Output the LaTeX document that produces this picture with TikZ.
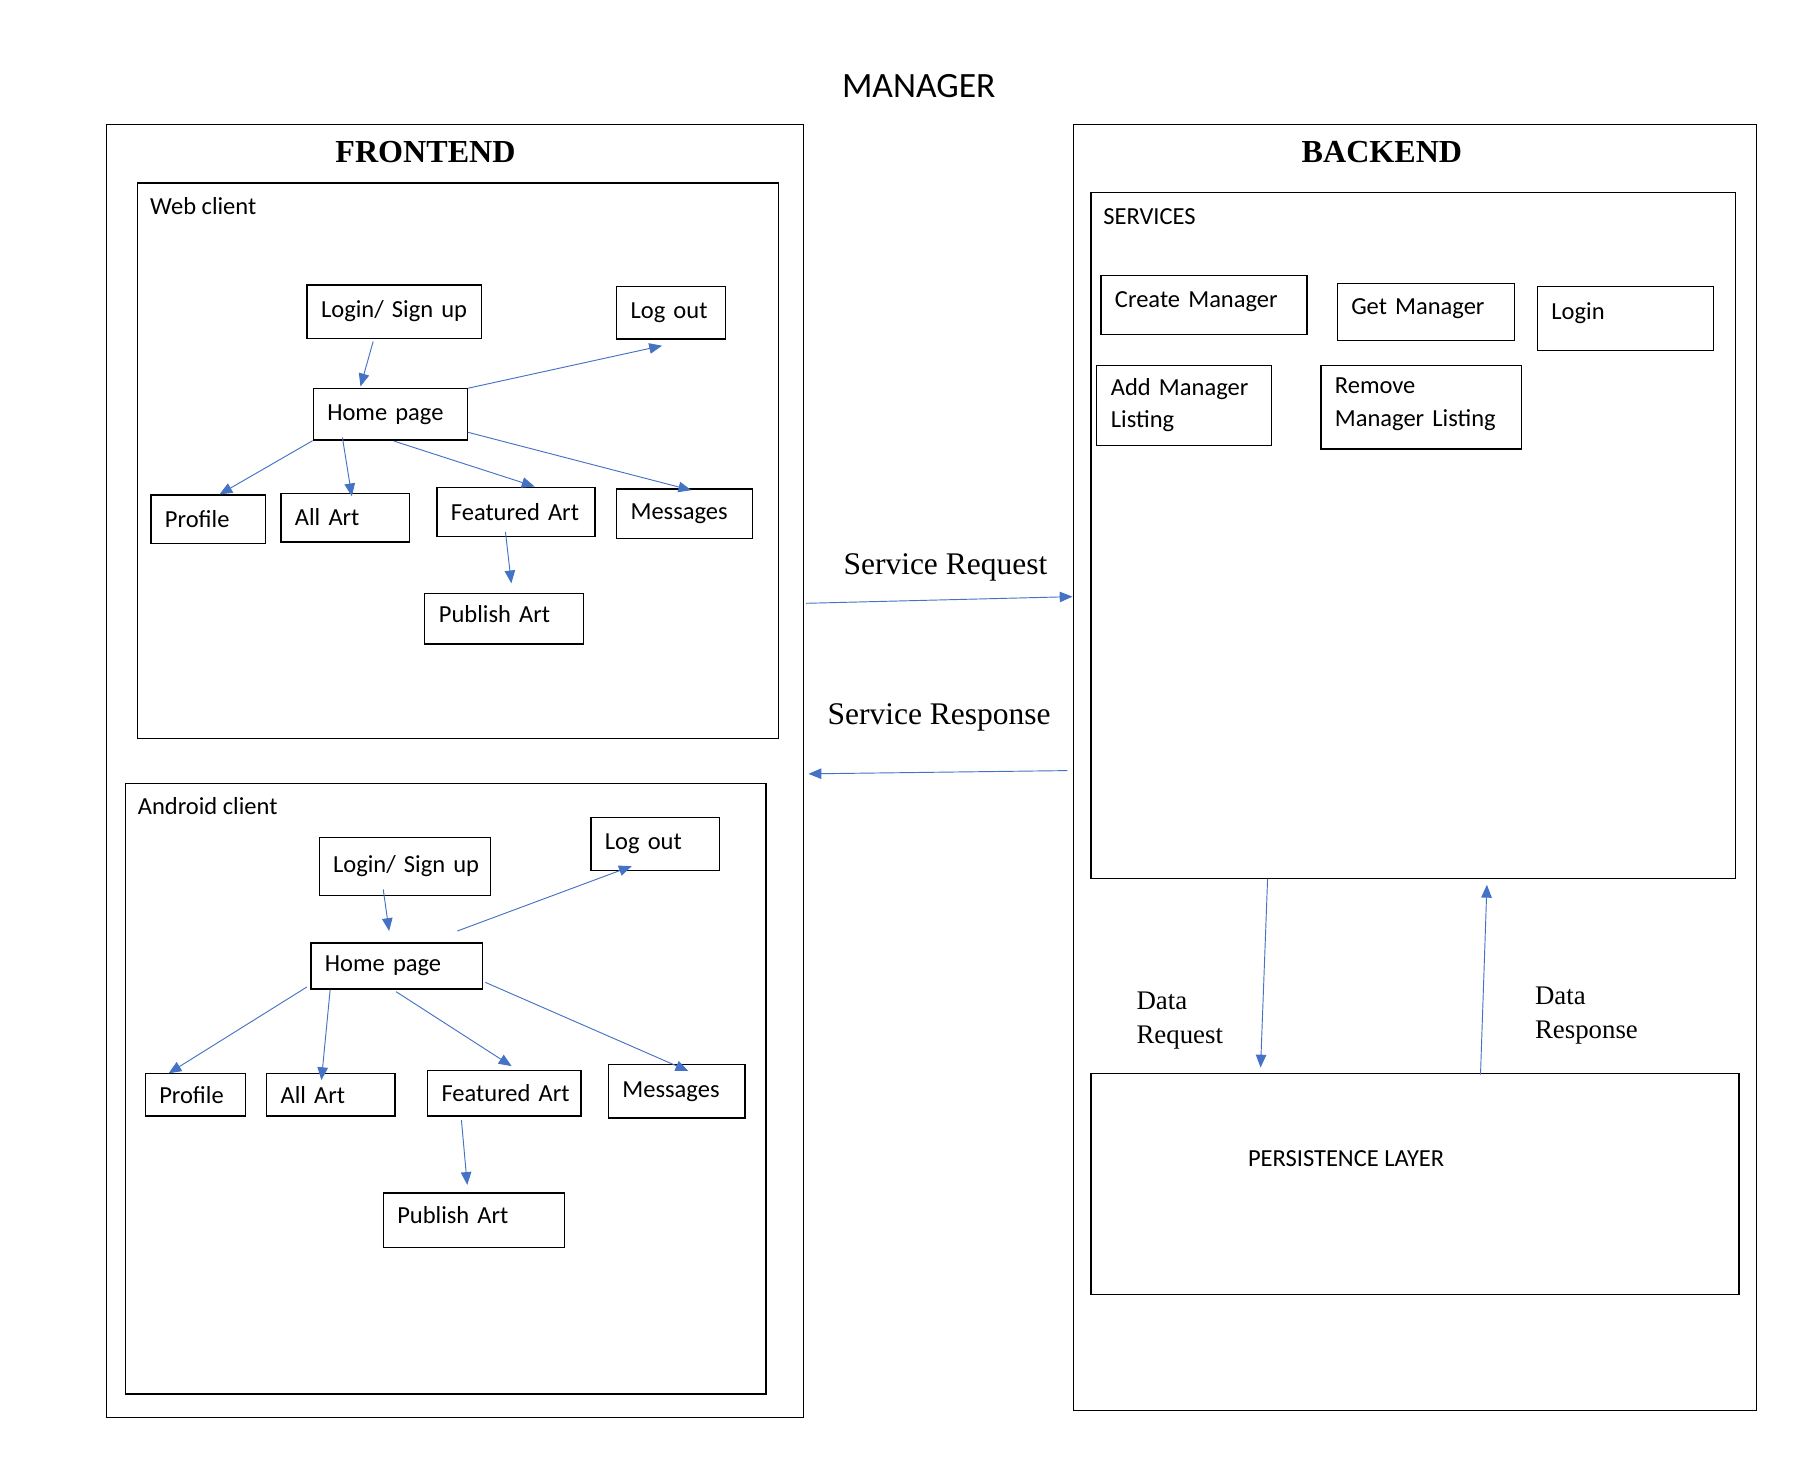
\documentclass[tikz,border=0pt]{standalone}
\usepackage{fontspec}
\setmainfont{Carlito}
\newfontfamily\tnr{Liberation Serif}
\usetikzlibrary{arrows.meta}
\definecolor{arrowblue}{HTML}{4472C4}
\tikzset{
  box/.style={draw, line width=1pt, anchor=north west, inner xsep=12pt, inner ysep=0pt,
    align=left, font=\fontsize{21}{28}\selectfont},
  svcbox/.style={box, text height=14pt, text depth=9pt},
  frame/.style={draw, line width=1pt, anchor=north west, inner sep=0pt},
  plain/.style={inner sep=0pt, font=\fontsize{21}{28}\selectfont},
  title/.style={inner sep=0pt, anchor=base, font=\tnr\bfseries\fontsize{27.5}{33}\selectfont},
  serif/.style={inner sep=0pt, anchor=base west, font=\tnr\fontsize{27}{32}\selectfont},
  serifsm/.style={inner sep=0pt, anchor=base west, align=left, font=\tnr\fontsize{23}{29}\selectfont},
  conn/.style={draw=arrowblue, line width=0.8pt, -{Triangle[length=11pt,width=9pt]}}
}
\begin{document}
\begin{tikzpicture}[x=1pt,y=-1pt]
\useasboundingbox[fill=white] (0,0) rectangle (1560,1251);

% title
\node[inner sep=0pt, anchor=base, font=\fontsize{30.5}{36}\selectfont] (manager) at (787.5,83.8) {MANAGER};

% containers
\node[frame, minimum width=597pt, minimum height=1108.2pt] (frontend) at (91,106.5) {};
\node[frame, minimum width=549.7pt, minimum height=476.1pt] (web) at (117,156.4) {};
\node[frame, minimum width=549pt, minimum height=523.5pt] (android) at (107,670.8) {};
\node[frame, minimum width=585.6pt, minimum height=1102.2pt] (backend) at (919.3,106.5) {};
\node[frame, minimum width=552.3pt, minimum height=587.4pt] (services) at (934.7,164.8) {};
\node[frame, minimum width=555.3pt, minimum height=189.9pt] (persist) at (934.7,919.4) {};

\node[title] (fronttitle) at (364.7,139.7) {FRONTEND};
\node[title] (backtitle) at (1184.5,139.7) {BACKEND};
\node[plain, anchor=base west] (weblbl) at (128.5,183.6) {Web client};
\node[plain, anchor=base west] (andlbl) at (118,698.3) {Android client};
\node[plain, anchor=base west] (servlbl) at (945.5,192.3) {SERVICES};
\node[plain, anchor=base west] (perslbl) at (1069.5,1000) {PERSISTENCE LAYER};

% web client boxes
\node[box, text width=125.3pt, minimum height=45.5pt] (wlogin) at (262.7,243.8) {\mbox{Login/ Sign up}};
\node[box, text width=69pt, minimum height=44.6pt] (wlogout) at (528,245.4) {\mbox{Log out}};
\node[box, text width=108pt, minimum height=43.9pt] (whome) at (268,332.8) {\mbox{Home page}};
\node[box, text width=74pt, minimum height=41.9pt] (wprofile) at (128.9,423.8) {\mbox{Profile}};
\node[box, text width=86pt, minimum height=41.8pt] (wallart) at (240.3,422.2) {\mbox{All Art}};
\node[box, text width=111.5pt, minimum height=42pt] (wfeat) at (374,417) {\mbox{Featured Art}};
\node[box, text width=92.8pt, minimum height=42.4pt] (wmsg) at (528,418.6) {\mbox{Messages}};
\node[box, text width=111.8pt, minimum height=43.5pt, text height=14pt, text depth=8pt] (wpub) at (363.7,508) {\mbox{Publish Art}};

\draw[conn] ([shift={(-18,2.4)}]wlogin.south) -- ([shift={(-25.5,-1.6)}]whome.north);
\draw[conn] (whome.north east) -- ([shift={(-7.5,5.3)}]wlogout.south);
\draw[conn] (whome.south west) -- ([shift={(9.7,0)}]wprofile.north);
\draw[conn] ([shift={(25.5,-2.7)}]whome.south west) -- ([shift={(5.75,3.2)}]wallart.north);
\draw[conn] ([shift={(3,0.3)}]whome.south) -- ([shift={(16,0)}]wfeat.north);
\draw[conn] ([shift={(0,-7.2)}]whome.south east) -- ([shift={(5.6,1.6)}]wmsg.north);
\draw[conn] ([shift={(-9,-4)}]wfeat.south) -- ([shift={(6.2,-8)}]wpub.north);

% android client boxes
\node[box, text width=123pt, minimum height=50.4pt] (alogin) at (273,717) {\mbox{Login/ Sign up}};
\node[box, text width=86pt, minimum height=45.8pt] (alogout) at (506,700) {\mbox{Log out}};
\node[box, text width=123pt, minimum height=39.5pt] (ahome) at (266,807.7) {\mbox{Home page}};
\node[box, text width=62pt, minimum height=36.6pt] (aprofile) at (124,919.4) {\mbox{Profile}};
\node[box, text width=86pt, minimum height=36.6pt] (aallart) at (228,919.4) {\mbox{All Art}};
\node[box, text width=107.5pt, minimum height=38.6pt] (afeat) at (366,917.4) {\mbox{Featured Art}};
\node[box, text width=93pt, minimum height=45.7pt] (amsg) at (521,912) {\mbox{Messages}};
\node[box, text width=131pt, minimum height=47pt, text height=14pt, text depth=8pt] (apub) at (328,1022) {\mbox{Publish Art}};

\draw[conn] ([shift={(-18.5,-6)}]alogin.south) -- ([shift={(-6.5,-9.7)}]ahome.north);
\draw[conn] ([shift={(52,-9.7)}]ahome.north) -- ([shift={(-20,-4.4)}]alogout.south);
\draw[conn] ([shift={(-3,-2.2)}]ahome.south west) -- ([shift={(-23,0.6)}]aprofile.north);
\draw[conn] ([shift={(17,0)}]ahome.south west) -- ([shift={(-8,6.4)}]aallart.north);
\draw[conn] ([shift={(-0.5,1.8)}]ahome.south) -- ([shift={(6.25,-3.6)}]afeat.north);
\draw[conn] ([shift={(2,-6.2)}]ahome.south east) -- ([shift={(10,6)}]amsg.north);
\draw[conn] ([shift={(-36.75,3)}]afeat.south) -- ([shift={(-5.5,-6.4)}]apub.north);

% services boxes
\node[svcbox, text width=152.6pt, minimum height=51.1pt] (create) at (943.2,235.4) {\mbox{Create Manager}};
\node[svcbox, text width=128.2pt, minimum height=49.5pt] (getm) at (1145.7,242.2) {\mbox{Get Manager}};
\node[svcbox, text width=126.7pt, minimum height=54.6pt, text depth=12pt] (loginsvc) at (1317.3,245.4) {\mbox{Login}};
\node[box, text width=125.3pt, minimum height=68.5pt] (addlist) at (939.7,312.5) {Add Manager\\Listing};
\node[box, text width=147.7pt, minimum height=71.8pt] (remlist) at (1131.7,312.5) {Remove\\Manager Listing\rule[-9pt]{0pt}{1pt}};

% middle labels and arrows
\node[serif] (sreqlbl) at (722.8,492) {Service Request};
\node[serif] (sreslbl) at (709.1,620.6) {Service Response};
\draw[conn] ([shift={(2,410.6)}]frontend.north east) -- ([shift={(0,404.9)}]backend.north west);
\draw[conn] ([shift={(-4.5,2.4)}]backend.west) -- ([shift={(4,2.2)}]frontend.east);

\node[serifsm] (dreqlbl) at (974,894) {Data\\Request};
\node[serifsm] (dreslbl) at (1315.5,890) {Data\\Response};
\draw[conn] ([shift={(151.8,0)}]services.south west) -- ([shift={(145.8,-4.4)}]persist.north west);
\draw[conn] ([shift={(334.3,1.6)}]persist.north west) -- ([shift={(339.8,5.2)}]services.south west);
\end{tikzpicture}
\end{document}
